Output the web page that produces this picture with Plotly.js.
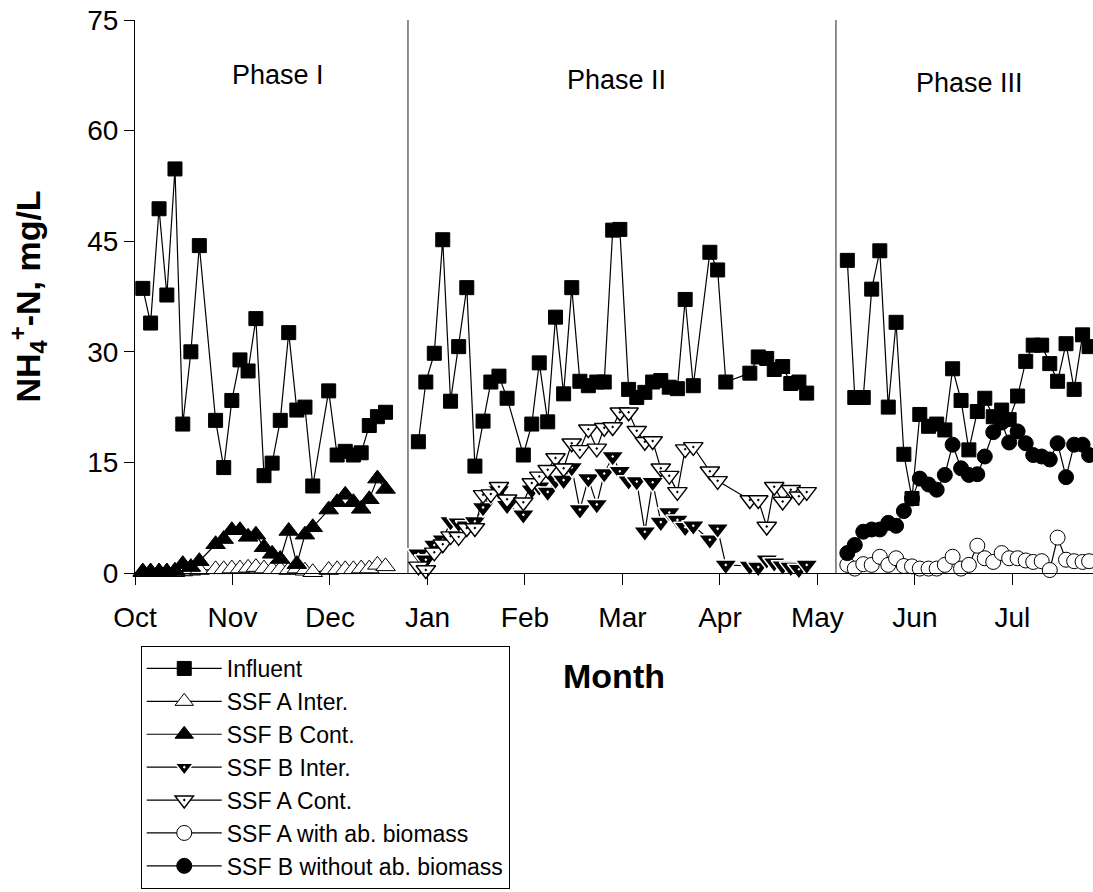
<!DOCTYPE html>
<html>
<head>
<meta charset="utf-8">
<script src="https://cdn.plot.ly/plotly-3.0.1.min.js"></script>
<style>
  html, body { margin: 0; padding: 0; background: #ffffff; }
  #chart { width: 1093px; height: 892px; }
</style>
</head>
<body>
<div id="chart"></div>
<script>
// x values: days counted from 1 October (month ticks every 30 days)
const monthTickDays = [0, 30, 60, 90, 120, 150, 180, 210, 240, 270];
const monthLabels = ["Oct", "Nov", "Dec", "Jan", "Feb", "Mar", "Apr", "May", "Jun", "Jul"];
const phaseBreaks = [84.0, 215.7];
const phaseLabels = ["Phase I", "Phase II", "Phase III"];

// Phase I
const days1 = [2.4, 4.8, 7.4, 9.8, 12.3, 14.7, 17.2, 19.8, 24.8, 27.3, 29.8, 32.3, 34.8, 37.2, 39.7,
  42.2, 44.7, 47.3, 49.8, 52.3, 54.7, 59.6, 62.2, 64.7, 67.2, 69.6, 72.1, 74.6, 77.1];
const influent1 = [38.6, 33.9, 49.4, 37.7, 54.8, 20.2, 30.0, 44.4, 20.7, 14.3, 23.4, 28.9, 27.4, 34.5, 13.2,
  14.9, 20.7, 32.6, 22.1, 22.5, 11.8, 24.7, 16.0, 16.5, 16.0, 16.3, 20.0, 21.2, 21.8];
const ssfAInter1 = [0.1, 0.1, 0.1, 0.1, 0.1, 0.2, 0.3, 0.4, 0.5, 0.5, 0.6, 0.6, 0.7, 0.8, 0.6,
  0.5, 0.5, 0.4, 0.6, 0.3, 0.1, 0.4, 0.5, 0.5, 0.5, 0.6, 0.6, 1.1, 0.9];
const ssfBCont1 = [0.2, 0.2, 0.2, 0.2, 0.3, 1.2, 0.8, 1.6, 3.9, 4.6, 5.8, 5.8, 4.9, 5.2, 3.5,
  2.6, 1.9, 5.7, 1.2, 5.2, 6.2, 8.6, 9.6, 10.6, 9.6, 8.7, 10.0, 12.8, 11.4];

// Phase II
const days2 = [87.2, 89.5, 92.1, 94.7, 97.1, 99.6, 102.1, 104.6, 107.1, 109.5, 112.0, 114.5, 119.5, 122.1, 124.4,
  127.0, 129.4, 131.9, 134.4, 136.9, 139.5, 142.1, 144.4, 147.0, 149.2, 151.9, 154.4, 156.9, 159.3, 161.8,
  164.4, 166.9, 169.3, 171.8, 176.9, 179.3, 181.8, 189.2, 191.8, 194.4, 196.7, 199.3, 201.8, 204.3, 206.7];
const influent2 = [17.8, 25.9, 29.8, 45.2, 23.3, 30.7, 38.7, 14.5, 20.6, 25.9, 26.7, 23.7, 16.0, 20.2, 28.5,
  20.5, 34.7, 24.3, 38.7, 26.0, 25.4, 25.9, 25.9, 46.5, 46.6, 24.9, 23.8, 24.5, 25.9, 26.1,
  25.2, 25.0, 37.1, 25.4, 43.5, 41.1, 25.9, 27.1, 29.3, 29.1, 27.6, 28.0, 25.7, 25.9, 24.4];
const ssfBInter2 = [2.6, 1.8, 3.8, 4.5, 7.0, 6.8, 6.4, 7.0, 8.9, 10.7, 11.2, 9.2, 7.9, 11.3, 11.7,
  11.0, 12.6, 12.6, 14.3, 8.6, 12.8, 9.3, 13.5, 15.8, 13.8, 12.5, 12.4, 5.6, 12.3, 6.9,
  8.2, 7.2, 6.2, 6.4, 4.5, 6.0, 1.1, 0.95, 0.8, 1.8, 1.4, 1.0, 0.8, 0.5, 1.1];
const ssfACont2 = [0.9, 0.4, 2.8, 3.9, 5.0, 4.9, 6.1, 6.1, 10.6, 10.7, 11.7, 10.0, 9.6, 12.2, 13.1,
  14.0, 15.6, 14.2, 17.6, 16.7, 19.5, 16.9, 19.7, 19.8, 21.8, 21.8, 19.3, 17.8, 17.9, 14.2,
  13.2, 11.0, 16.8, 17.1, 13.8, 12.5, null, 9.9, 9.9, 6.3, 11.7, 9.7, 11.3, 10.4, 11.0];

// Phase III
const days3 = [219.2, 221.5, 224.1, 226.7, 229.2, 231.8, 234.2, 236.6, 239.1, 241.5, 244.2, 246.7, 249.2, 251.6, 254.2,
  256.6, 259.2, 261.5, 264.1, 266.7, 269.0, 271.6, 274.1, 276.4, 279.0, 281.5, 283.9, 286.5, 289.0, 291.6, 293.6];
const influent3 = [42.4, 23.8, 23.8, 38.5, 43.7, 22.5, 34.0, 16.1, 10.1, 21.5, 19.9, 20.2, 19.4, 27.7, 23.4,
  16.7, 21.9, 23.7, 21.2, 22.1, 20.8, 24.0, 28.7, 30.9, 30.9, 28.4, 26.0, 31.1, 24.9, 32.3, 30.7];
const ssfAWith3 = [1.1, 0.6, 1.2, 1.1, 2.2, 1.1, 2.0, 0.95, 0.9, 0.6, 0.6, 0.6, 1.1, 2.2, 0.6,
  1.1, 3.7, 2.0, 1.5, 2.7, 2.0, 2.0, 1.7, 1.5, 1.6, 0.4, 4.8, 1.8, 1.6, 1.5, 1.6];
const ssfBWithout3 = [2.7, 3.8, 5.6, 5.9, 5.9, 6.8, 6.4, 8.4, 10.1, 12.8, 12.0, 11.3, 13.3, 17.4, 14.2,
  13.3, 13.4, 15.8, 19.1, 20.4, 17.7, 19.2, 17.6, 16.0, 15.8, 15.4, 17.6, 13.0, 17.4, 17.4, 16.0];

const FONT = "Liberation Sans, Arial, Helvetica, sans-serif";
const lineStyle = { color: "#000000", width: 1.2 };

const influentX = days1.concat([null], days2, [null], days3);
const influentY = influent1.concat([null], influent2, [null], influent3);

const traces = [
  { name: "Influent", x: influentX, y: influentY, mode: "lines+markers", connectgaps: false,
    line: lineStyle, cliponaxis: false,
    marker: { symbol: "square", size: 14, color: "#000000", line: { color: "#000000", width: 1 } } },
  { name: "SSF A Inter.", x: days1, y: ssfAInter1, mode: "lines+markers",
    line: lineStyle, cliponaxis: false,
    marker: { symbol: "triangle-up", size: 17, color: "#ffffff", line: { color: "#000000", width: 1 } } },
  { name: "SSF B Cont.", x: days1, y: ssfBCont1, mode: "lines+markers",
    line: lineStyle, cliponaxis: false,
    marker: { symbol: "triangle-up", size: 17, color: "#000000", line: { color: "#000000", width: 1 } } },
  { name: "SSF B Inter.", x: days2, y: ssfBInter2, mode: "lines+markers",
    line: lineStyle, cliponaxis: false,
    marker: { symbol: "triangle-down-dot", size: 20, color: "#000000", line: { color: "#ffffff", width: 1.5 } } },
  { name: "SSF A Cont.", x: days2, y: ssfACont2, mode: "lines+markers", connectgaps: true,
    line: lineStyle, cliponaxis: false,
    marker: { symbol: "triangle-down-dot", size: 17, color: "#ffffff", line: { color: "#000000", width: 1.4 } } },
  { name: "SSF A with ab. biomass", x: days3, y: ssfAWith3, mode: "lines+markers",
    line: lineStyle, cliponaxis: false,
    marker: { symbol: "circle", size: 15, color: "#ffffff", line: { color: "#000000", width: 1 } } },
  { name: "SSF B without ab. biomass", x: days3, y: ssfBWithout3, mode: "lines+markers",
    line: lineStyle, cliponaxis: false,
    marker: { symbol: "circle", size: 15, color: "#000000", line: { color: "#000000", width: 1 } } }
];

const phaseX = [44.0, 148.3, 256.9];
const phaseY = [67.5, 66.8, 66.4];

const layout = {
  width: 1093, height: 892,
  margin: { l: 135, r: 0, t: 20, b: 319, pad: 0, autoexpand: false },
  paper_bgcolor: "#ffffff", plot_bgcolor: "#ffffff",
  font: { family: FONT, color: "#000000", size: 27 },
  showlegend: true,
  xaxis: {
    range: [0, 294.8], tickmode: "array", tickvals: monthTickDays, ticktext: monthLabels,
    ticks: "outside", ticklen: 11, tickwidth: 1, tickcolor: "#000000", ticklabelstandoff: 8,
    showline: true, linecolor: "#000000", linewidth: 1, mirror: false,
    showgrid: false, zeroline: false, automargin: false,
    tickfont: { family: FONT, size: 28, color: "#000000" },
    title: { text: "<b>Month</b>", font: { family: FONT, size: 34, color: "#000000" }, standoff: 32 }
  },
  yaxis: {
    range: [0, 75], tickmode: "linear", tick0: 0, dtick: 15,
    ticks: "outside", ticklen: 10, tickwidth: 1, tickcolor: "#000000",
    showline: true, linecolor: "#000000", linewidth: 1,
    showgrid: false, zeroline: false, automargin: false,
    tickfont: { family: FONT, size: 28, color: "#000000" },
    title: { text: "<b>NH<sub>4</sub><sup>+</sup>-N, mg/L</b>", font: { family: FONT, size: 34, color: "#000000" }, standoff: 36 }
  },
  legend: {
    x: 0.006, y: -0.132, xanchor: "left", yanchor: "top",
    bgcolor: "#ffffff", bordercolor: "#000000", borderwidth: 1,
    font: { family: FONT, size: 23, color: "#000000" },
    itemwidth: 75, tracegroupgap: 0
  },
  shapes: phaseBreaks.map(b => ({
    type: "line", xref: "x", yref: "y", x0: b, x1: b, y0: 0, y1: 75,
    line: { color: "#444444", width: 1.2 }, layer: "below"
  })),
  annotations: phaseLabels.map((t, i) => ({
    text: t, x: phaseX[i], y: phaseY[i], xref: "x", yref: "y", showarrow: false,
    xanchor: "center", yanchor: "middle",
    font: { family: FONT, size: 27, color: "#000000" }
  }))
};

Plotly.newPlot("chart", traces, layout, { displayModeBar: false, staticPlot: true });
</script>
</body>
</html>
